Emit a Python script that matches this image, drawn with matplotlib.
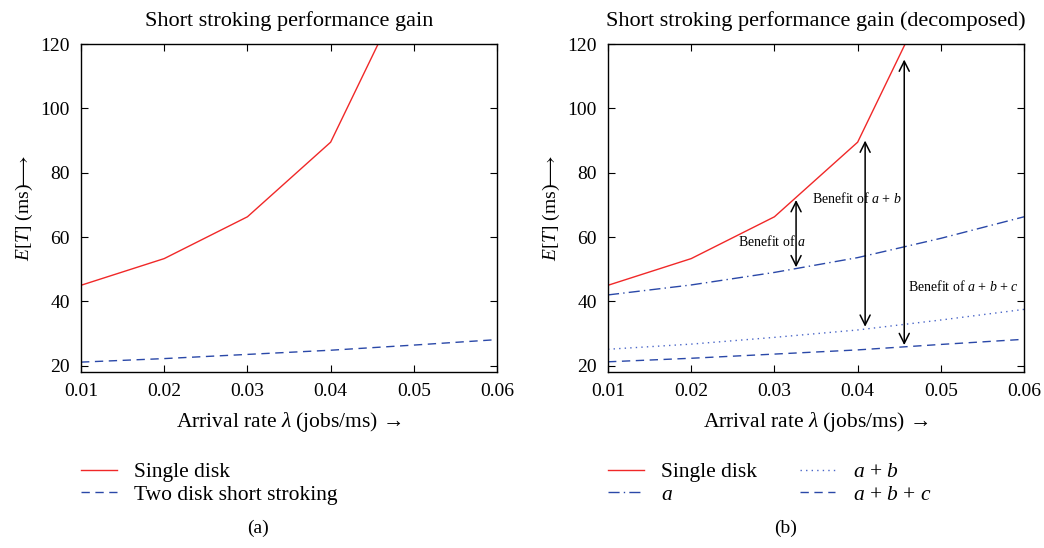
import matplotlib
matplotlib.use("Agg")
import matplotlib.pyplot as plt

plt.rcParams.update({
    'font.family': ['Liberation Serif', 'DejaVu Sans'],
    'mathtext.fontset': 'custom',
    'mathtext.rm': 'Liberation Serif',
    'mathtext.it': 'Liberation Serif:italic',
    'mathtext.bf': 'Liberation Serif:bold',
    'font.size': 14,
})

# data
rate = [0.01, 0.02, 0.03, 0.04, 0.05, 0.06]
single_rate = [0.01, 0.02, 0.03, 0.04, 0.05]
single_disk = [45.0, 53.3, 66.3, 89.5, 143.0]
two_disk = [21.1, 22.2, 23.5, 24.8, 26.4, 28.1]
a_only = [42.0, 45.1, 49.0, 53.6, 59.6, 66.3]
a_b = [25.1, 26.7, 28.8, 31.1, 34.2, 37.5]
a_b_c = [21.2, 22.3, 23.6, 24.9, 26.6, 28.2]

# benefit arrows: x, top, bottom
arrow_x = [0.0326, 0.0409, 0.0456]
arrow_top = [71.5, 90.0, 115.2]
arrow_bot = [50.6, 32.1, 26.4]

red = '#f02828'
blue = '#2a48a8'
blue2 = '#4a66c8'

fig = plt.figure(figsize=(10.44, 5.48), dpi=100)
ax1 = fig.add_axes([0.0776, 0.321, 0.3985, 0.5985])
ax2 = fig.add_axes([0.5824, 0.321, 0.3985, 0.5985])

def style_axes(ax, title):
    ax.set_xlim(0.01, 0.06)
    ax.set_ylim(18, 120)
    ax.set_xticks(rate)
    ax.set_xticklabels(['0.01', '0.02', '0.03', '0.04', '0.05', '0.06'])
    ax.set_yticks([20, 40, 60, 80, 100, 120])
    ax.tick_params(direction='in', top=True, right=True, length=5, labelsize=14, pad=8)
    ax.set_xlabel('Arrival rate $\\lambda$ (jobs/ms) \u2192', fontsize=15.5, labelpad=7)
    ax.set_ylabel(r'$E[T]$ (ms)$\!\!\longrightarrow$', fontsize=14, labelpad=4)
    ax.set_title(title, fontsize=16, pad=13)
    for s in ax.spines.values():
        s.set_linewidth(1.0)

def add_legend(ax, x0, ncol):
    ax.legend(ncol=ncol, loc='upper left', bbox_to_anchor=(x0, 1 - 462 / 548),
              bbox_transform=fig.transFigure, frameon=False, fontsize=15.5,
              borderpad=0, borderaxespad=0, handlelength=1.65, handletextpad=0.8,
              labelspacing=0.12, columnspacing=2.0)

#left panel
ax1.plot(single_rate, single_disk, color=red, lw=1.0, label='Single disk')
ax1.plot(rate, two_disk, color=blue, lw=1.0, ls=(0, (6, 4)), label='Two disk short stroking')
style_axes(ax1, 'Short stroking performance gain')
add_legend(ax1, 81 / 1044, 1)
fig.text(0.247, 0.028, '(a)', ha='center', fontsize=14)

#right panel
ax2.plot(single_rate, single_disk, color=red, lw=1.0, label='Single disk')
ax2.plot(rate, a_only, color=blue, lw=1.0, ls=(0, (8, 3, 1, 3)), label='$a$')
ax2.plot(rate, a_b, color=blue2, lw=1.0, ls=(0, (1, 3)), label='$a$ + $b$')
ax2.plot(rate, a_b_c, color=blue, lw=1.0, ls=(0, (6, 4)), label='$a$ + $b$ + $c$')
style_axes(ax2, 'Short stroking performance gain (decomposed)')
add_legend(ax2, 608 / 1044, 2)

for x, top, bot in zip(arrow_x, arrow_top, arrow_bot):
    ax2.annotate('', xy=(x, top), xytext=(x, bot),
                 arrowprops=dict(arrowstyle='<->', color='black', lw=1.1,
                                 shrinkA=0, shrinkB=0, mutation_scale=18))
ax2.text(0.0256, 58.6, 'Benefit of $a$', fontsize=10, ha='left', va='center')
ax2.text(0.0345, 72.0, 'Benefit of $a$ + $b$', fontsize=10, ha='left', va='center')
ax2.text(0.0461, 44.6, 'Benefit of $a$ + $b$ + $c$', fontsize=10, ha='left', va='center')
fig.text(0.752, 0.028, '(b)', ha='center', fontsize=14)

plt.savefig('out.png', dpi=100)
